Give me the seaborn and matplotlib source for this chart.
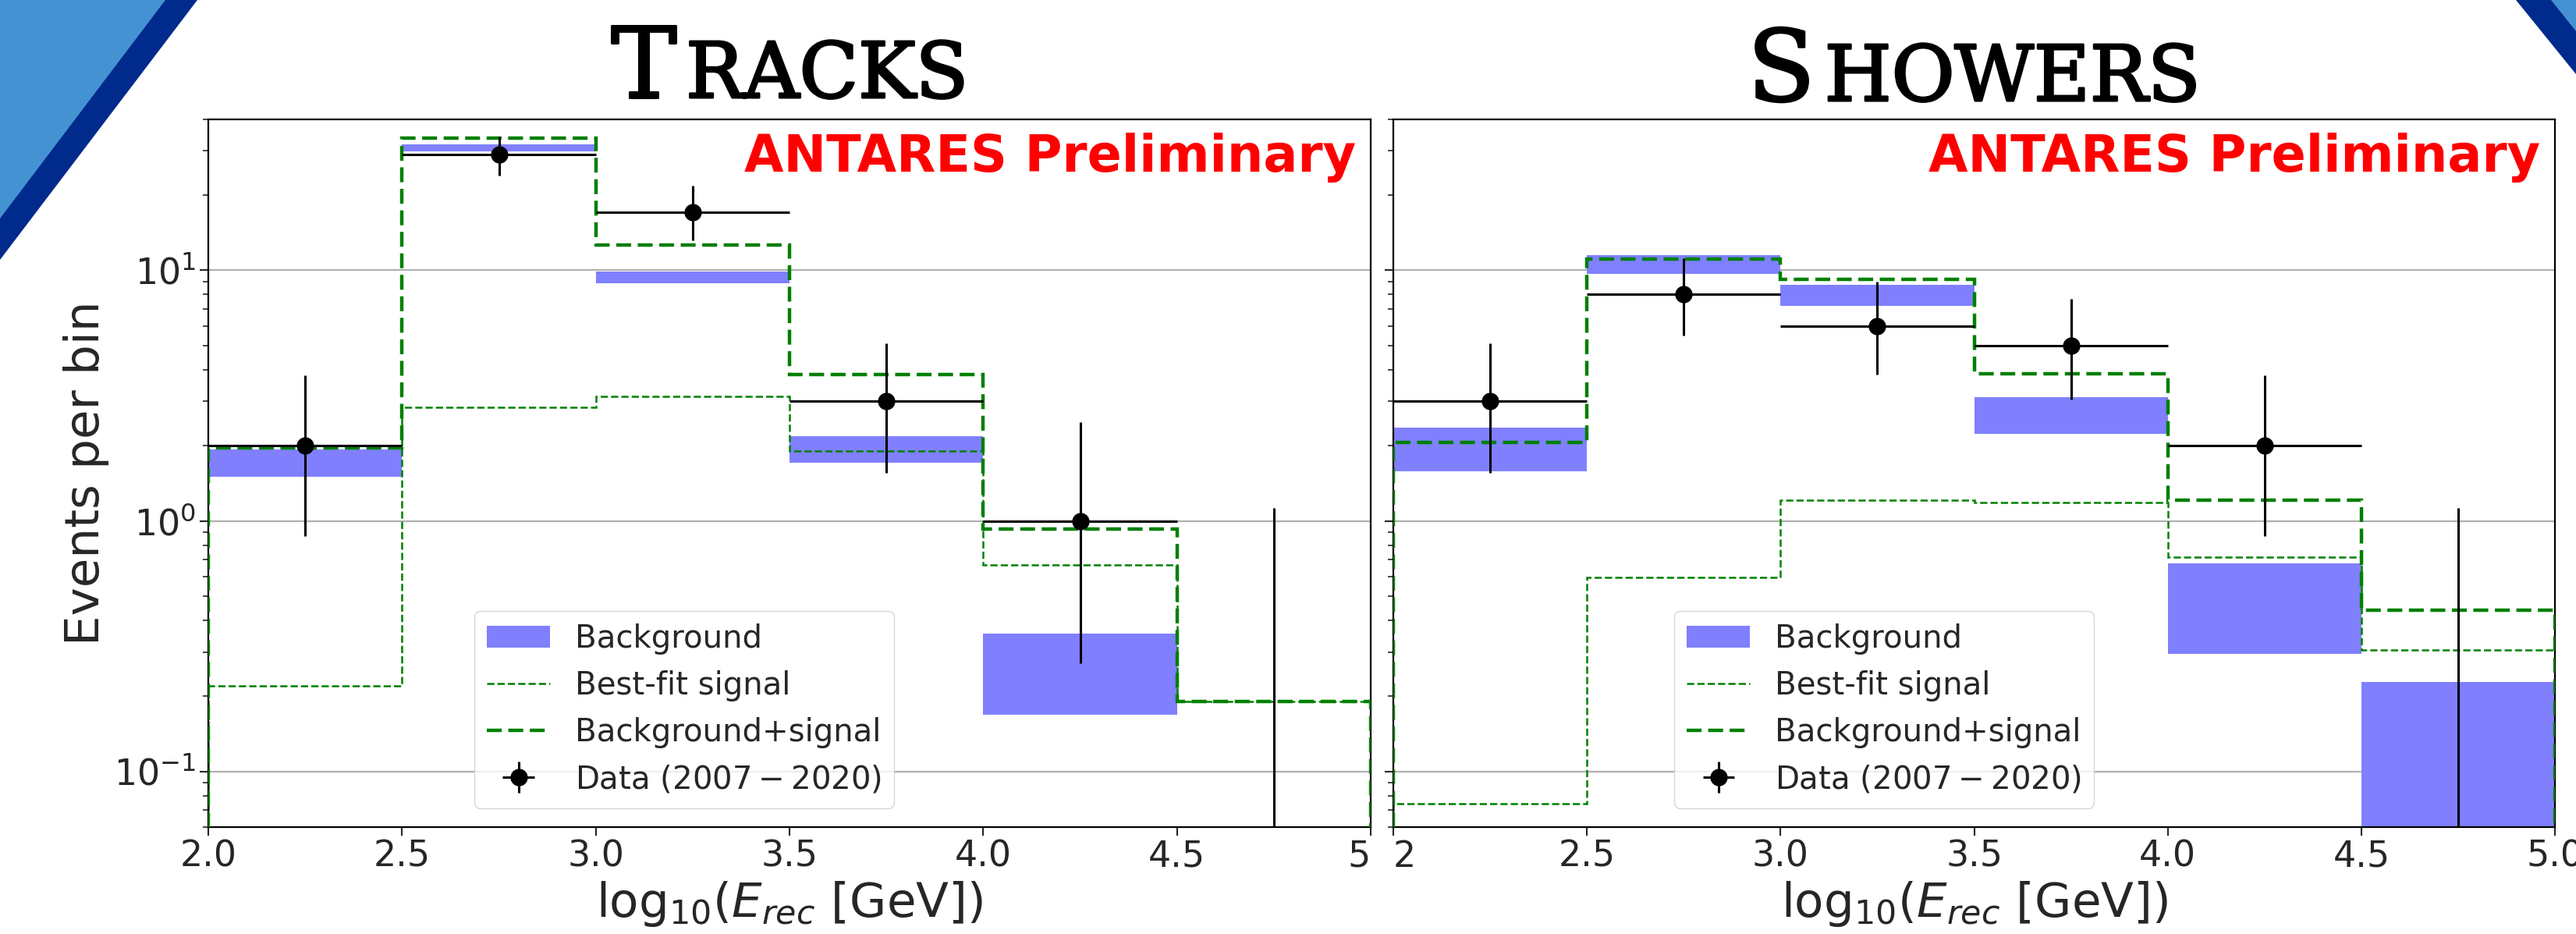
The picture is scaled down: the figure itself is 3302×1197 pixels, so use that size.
import numpy as np
import matplotlib
matplotlib.use("Agg")
import matplotlib.pyplot as plt
import matplotlib.patheffects as pe
from matplotlib.patches import Polygon
import seaborn as sns

# bin edges / centres in log10(E_rec)
edges = [2.0, 2.5, 3.0, 3.5, 4.0, 4.5, 5.0]
centers = [2.25, 2.75, 3.25, 3.75, 4.25, 4.75]

# Tracks
trk_bkg_lo = [1.50, 29.8, 8.85, 1.71, 0.169, 0.03]
trk_bkg_hi = [1.93, 31.9, 9.86, 2.18, 0.355, 0.04]
trk_sig = [0.22, 2.84, 3.14, 1.90, 0.668, 0.19]
trk_tot = [1.96, 33.7, 12.6, 3.84, 0.93, 0.19]
trk_data = [2, 29, 17, 3, 1, 0]
trk_err_lo = [1.13, 5.2, 3.8, 1.45, 0.73, 0]
trk_err_hi = [1.81, 5.2, 4.7, 2.12, 1.47, 1.13]

# Showers
shw_bkg_lo = [1.58, 9.65, 7.19, 2.23, 0.294, 0.03]
shw_bkg_hi = [2.36, 11.5, 8.73, 3.11, 0.675, 0.228]
shw_sig = [0.0745, 0.593, 1.21, 1.18, 0.719, 0.305]
shw_tot = [2.05, 11.1, 9.18, 3.86, 1.21, 0.44]
shw_data = [3, 8, 6, 5, 2, 0]
shw_err_lo = [1.45, 2.5, 2.17, 1.95, 1.13, 0]
shw_err_hi = [2.12, 3.2, 2.98, 2.67, 1.81, 1.13]

xticks = [2.0, 2.5, 3.0, 3.5, 4.0, 4.5, 5.0]
trk_xticklabels = ["2.0", "2.5", "3.0", "3.5", "4.0", "4.5", "5"]
shw_xticklabels = ["2", "2.5", "3.0", "3.5", "4.0", "4.5", "5.0"]

sns.set_style("ticks")
plt.rcParams["font.family"] = ["DejaVu Sans"]
plt.rcParams["axes.edgecolor"] = "black"

W, H, DPI = 3302, 1197, 100
fig = plt.figure(figsize=(W / DPI, H / DPI), dpi=DPI)
ax1 = fig.add_axes([267 / W, 1 - 1060 / H, 1490 / W, 907 / H])
ax2 = fig.add_axes([1786 / W, 1 - 1060 / H, 1489 / W, 907 / H], sharey=ax1)


def draw_panel(ax, bkg_lo, bkg_hi, sig, tot, data, err_lo, err_hi):
    ax.set_yscale("log")
    band = ax.stairs(bkg_hi, edges, baseline=bkg_lo, fill=True,
                     color="#8080ff", lw=0, label="Background", zorder=1)
    s = ax.stairs(sig, edges, baseline=0, color="green", lw=1.8,
                  linestyle=(0, (3.7, 1.6)), label="Best-fit signal", zorder=2)
    t = ax.stairs(tot, edges, baseline=0, color="green", lw=3.2,
                  linestyle=(0, (4.3, 1.9)), label="Background+signal", zorder=3)
    d = ax.errorbar(centers, data, xerr=0.25, yerr=[err_lo, err_hi], fmt="o",
                    color="black", ms=15, elinewidth=2.2, capsize=0,
                    label="Data $(2007-2020)$", zorder=4)
    ax.set_xlim(2.0, 5.0)
    ax.set_ylim(0.06, 40)
    ax.set_xticks(xticks)
    ax.yaxis.grid(True, which="major", color="#b0b0b0", lw=1.6)
    ax.xaxis.grid(False)
    ax.set_axisbelow(True)
    for sp in ax.spines.values():
        sp.set_visible(True)
        sp.set_linewidth(1.6)
        sp.set_color("black")
    ax.tick_params(which="major", direction="out", length=8, width=1.5,
                   labelsize=33, top=False, right=False)
    ax.tick_params(which="minor", direction="out", length=5, width=1.2,
                   top=False, right=False)
    ax.tick_params(axis="x", which="minor", bottom=False)
    ax.set_xlabel(r"log$_{10}$($E_{rec}$ [GeV])", fontsize=44)
    ax.text(0.987, 0.926, "ANTARES Preliminary", transform=ax.transAxes,
            ha="right", va="baseline", color="red", fontsize=47,
            fontweight="bold")
    ax.legend([band, s, t, d],
              ["Background", "Best-fit signal", "Background+signal",
               "Data $(2007-2020)$"],
              loc="lower left", bbox_to_anchor=(0.229, 0.027),
              borderaxespad=0, fontsize=29)


draw_panel(ax1, trk_bkg_lo, trk_bkg_hi, trk_sig, trk_tot,
           trk_data, trk_err_lo, trk_err_hi)
draw_panel(ax2, shw_bkg_lo, shw_bkg_hi, shw_sig, shw_tot,
           shw_data, shw_err_lo, shw_err_hi)
ax2.legend_.set_bbox_to_anchor((0.242, 0.027), transform=ax2.transAxes)

ax1.set_ylabel("Events per bin", fontsize=44)
ax2.tick_params(labelleft=False)

ax1.set_xticklabels(trk_xticklabels)
ax2.set_xticklabels(shw_xticklabels)
ax1.get_xticklabels()[-1].set_ha("right")
ax2.get_xticklabels()[0].set_ha("left")

renderer = fig.canvas.get_renderer()


# small-caps serif titles, centred on cx with baseline at base_y (pixels)
def smallcaps(cx, base_y, first, rest, big=91, small=71, gap=12):
    kw = dict(family="DejaVu Serif", va="baseline", ha="left",
              color="black", transform=None,
              path_effects=[pe.withStroke(linewidth=2.2, foreground="black")])
    y = H - base_y
    t1 = fig.text(0, y, first, fontsize=big, **kw)
    w1 = t1.get_window_extent(renderer).width
    t2 = fig.text(0, y, rest, fontsize=small, **kw)
    w2 = t2.get_window_extent(renderer).width
    x0 = cx - (w1 + gap + w2) / 2
    t1.set_x(x0)
    t2.set_x(x0 + w1 + gap)


smallcaps((267 + 1757) / 2, 125, "T", "RACKS")
smallcaps((1786 + 3275) / 2, 129, "S", "HOWERS")


# slide corner decorations
def corner(pts, color):
    p = np.array(pts, dtype=float)
    p[:, 0] /= W
    p[:, 1] = 1 - p[:, 1] / H
    fig.add_artist(Polygon(p, closed=True, color=color, lw=0,
                           transform=fig.transFigure))


corner([(0, 0), (253, 0), (0, 333)], "#002b8c")
corner([(0, 0), (212, 0), (0, 280)], "#4592d3")
corner([(3225, 0), (3302, 0), (3302, 95)], "#002b8c")
corner([(3270, 0), (3302, 0), (3302, 40)], "#4592d3")

fig.savefig("out.png", dpi=DPI)
